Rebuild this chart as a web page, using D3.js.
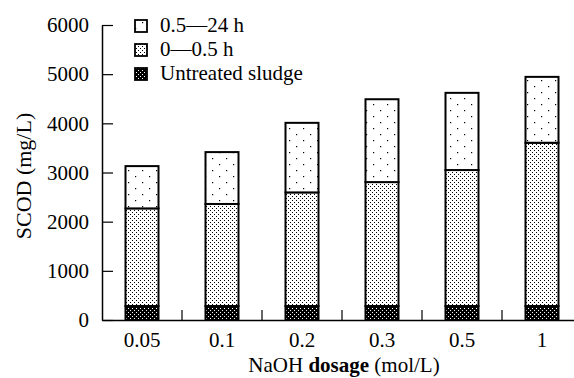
<!DOCTYPE html>
<html>
<head>
<meta charset="utf-8">
<script src="https://cdn.jsdelivr.net/npm/d3@7"></script>
<style>
  body { margin: 0; background: #fff; }
  svg text { font-family: "Liberation Serif", "Times New Roman", serif !important; fill: #000; }
</style>
</head>
<body>
<svg id="chart" width="574" height="378"></svg>
<script>
// data
var dosages = ["0.05", "0.1", "0.2", "0.3", "0.5", "1"];
var untreated = [285, 285, 285, 285, 285, 285];
var short = [1985, 2075, 2310, 2520, 2765, 3320];   // 0-0.5 h increment
var long = [860, 1055, 1415, 1685, 1570, 1340];     // 0.5-24 h increment
var seriesNames = ["Untreated sludge", "0\u20140.5 h", "0.5\u201424 h"];
var yTicks = [0, 1000, 2000, 3000, 4000, 5000, 6000];

var fontSize = "21px";
var svg = d3.select("#chart");
var defs = svg.append("defs");

// fill patterns
var p1 = defs.append("pattern").attr("id", "pUntreated").attr("patternUnits", "userSpaceOnUse")
    .attr("width", 4).attr("height", 4);
p1.append("rect").attr("width", 4).attr("height", 4).attr("fill", "#000");
p1.append("rect").attr("x", 0).attr("y", 0).attr("width", 1).attr("height", 1).attr("fill", "#fff");
p1.append("rect").attr("x", 2).attr("y", 2).attr("width", 1).attr("height", 1).attr("fill", "#fff");

var p2 = defs.append("pattern").attr("id", "pShort").attr("patternUnits", "userSpaceOnUse")
    .attr("width", 4).attr("height", 4);
p2.append("rect").attr("width", 4).attr("height", 4).attr("fill", "#fff");
p2.append("rect").attr("x", 0).attr("y", 0).attr("width", 1).attr("height", 1).attr("fill", "#000");
p2.append("rect").attr("x", 2).attr("y", 2).attr("width", 1).attr("height", 1).attr("fill", "#000");

var p3 = defs.append("pattern").attr("id", "pLong").attr("patternUnits", "userSpaceOnUse")
    .attr("width", 14).attr("height", 12);
p3.append("rect").attr("width", 14).attr("height", 12).attr("fill", "#fff");
p3.append("rect").attr("x", 2).attr("y", 2).attr("width", 1.2).attr("height", 1.2).attr("fill", "#000");
p3.append("rect").attr("x", 9).attr("y", 8).attr("width", 1.2).attr("height", 1.2).attr("fill", "#000");

var fills = ["url(#pUntreated)", "url(#pShort)", "url(#pLong)"];

var x = d3.scaleBand().domain(dosages).range([102, 582]).paddingInner(0).paddingOuter(0);
var y = d3.scaleLinear().domain([0, 6000]).range([320, 25]);

// stacked data
var rows = dosages.map(function(d, i) {
    return { dosage: d, untreated: untreated[i], short: short[i], long: long[i] };
});
var stack = d3.stack().keys(["untreated", "short", "long"]);
var layers = stack(rows);

var barW = 33;
layers.forEach(function(layer, k) {
    svg.append("g").selectAll("rect").data(layer).enter().append("rect")
        .attr("x", function(d) { return x(d.data.dosage) + x.bandwidth() / 2 - barW / 2; })
        .attr("y", function(d) { return y(d[1]); })
        .attr("width", barW)
        .attr("height", function(d) { return y(d[0]) - y(d[1]); })
        .attr("fill", fills[k])
        .attr("stroke", "#000")
        .attr("stroke-width", 2);
});

// axes
var yAxis = d3.axisLeft(y).tickValues(yTicks).tickFormat(d3.format("d"))
    .tickSizeInner(-11).tickSizeOuter(0).tickPadding(13);
var gy = svg.append("g").attr("transform", "translate(102,0)").call(yAxis)
    .attr("font-family", "Liberation Serif").attr("font-size", fontSize);
gy.select(".domain").attr("stroke-width", 1.5);
gy.selectAll(".tick line").attr("stroke-width", 1.2);

var xAxis = d3.axisBottom(x).tickSize(0).tickPadding(12);
var gx = svg.append("g").attr("transform", "translate(0,320)").call(xAxis)
    .attr("font-family", "Liberation Serif").attr("font-size", fontSize);
gx.select(".domain").attr("stroke-width", 1.5);
// separator ticks between groups
svg.append("g").selectAll("line").data(dosages.slice(1)).enter().append("line")
    .attr("x1", function(d) { return x(d); }).attr("x2", function(d) { return x(d); })
    .attr("y1", 320).attr("y2", 310)
    .attr("stroke", "#000").attr("stroke-width", 1.2);

// axis titles
svg.append("text")
    .attr("transform", "translate(31,176) rotate(-90)")
    .attr("text-anchor", "middle")
    .attr("font-size", "22px")
    .text("SCOD (mg/L)");

var xt = svg.append("text").attr("x", 344).attr("y", 372).attr("text-anchor", "middle")
    .attr("font-size", fontSize);
xt.append("tspan").text("NaOH ");
xt.append("tspan").attr("font-weight", "bold").text("dosage");
xt.append("tspan").text(" (mol/L)");

// legend
var legendOrder = [2, 1, 0];
var lg = svg.append("g").selectAll("g").data(legendOrder).enter().append("g")
    .attr("transform", function(d, i) { return "translate(0," + (32 + i * 24) + ")"; });
lg.append("rect").attr("x", 135).attr("y", -12).attr("width", 12).attr("height", 12)
    .attr("fill", function(d) { return fills[d]; })
    .attr("stroke", "#000").attr("stroke-width", 1.8);
lg.append("text").attr("x", 160).attr("y", 0)
    .attr("font-size", fontSize)
    .text(function(d) { return seriesNames[d]; });
</script>
</body>
</html>
